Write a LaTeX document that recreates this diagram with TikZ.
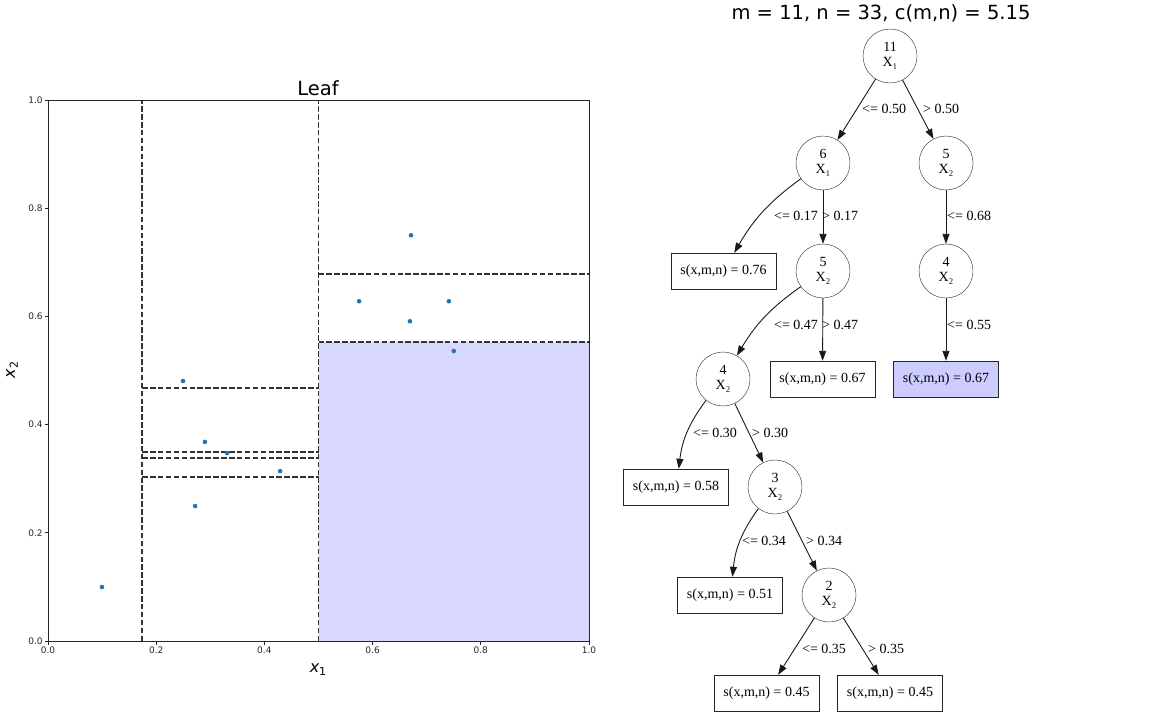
\documentclass[tikz,border=0pt]{standalone}
\usepackage{fontspec}
\setmainfont{Liberation Serif}
\newfontfamily\plotfont{DejaVu Sans}
\usetikzlibrary{arrows.meta}
\definecolor{ptblue}{HTML}{1F77B4}
\definecolor{leafshade}{HTML}{D8D8FF}
\definecolor{leafpick}{HTML}{CCCCFF}

\begin{document}
\begin{tikzpicture}[x=1pt, y=-1pt,
   split/.style={draw=black!85, circle, minimum size=54pt, inner sep=0pt, align=center, font=\fontsize{14}{15}\selectfont},
   leaf/.style={draw=black!85, minimum width=105pt, minimum height=36pt, inner sep=2pt, font=\fontsize{14}{15}\selectfont},
   cut/.style={anchor=west, inner sep=0pt, font=\fontsize{14}{15}\selectfont},
   edge/.style={black!90, line width=0.9pt},
   part/.style={black!80, line width=1.7pt, dash pattern=on 5.5pt off 2.4pt},
   tick/.style={font=\plotfont\fontsize{9}{9}\selectfont, inner sep=1.5pt},
   >={Triangle[length=10pt,width=7pt]}]
\useasboundingbox (0,0) rectangle (1152,720);
%
% left: the partition of the unit square
\begin{scope}[shift={(48,641)}, x=541pt, y=541pt]
   \fill[leafshade] (0.5,0) rectangle (1,0.553);
   \draw[part] (0.174,0) -- (0.174,1);
   \draw[part] (0.5,0) -- (0.5,1);
   \draw[part] (0.5,0.678) -- (1,0.678);
   \draw[part] (0.5,0.553) -- (1,0.553);
   \draw[part] (0.174,0.468) -- (0.5,0.468);
   \draw[part] (0.174,0.349) -- (0.5,0.349);
   \draw[part] (0.174,0.338) -- (0.5,0.338);
   \draw[part] (0.174,0.303) -- (0.5,0.303);
   \foreach \px/\py in {0.671/0.750, 0.575/0.628, 0.741/0.628, 0.669/0.591, 0.750/0.536,
                        0.2495/0.4806, 0.290/0.368, 0.331/0.3475, 0.429/0.314, 0.272/0.2495, 0.0998/0.0998}
      \fill[ptblue] (\px,\py) circle (2.3pt);
   \draw[black!85, line width=1pt] (0,0) rectangle (1,1);
   \foreach \t in {0.0,0.2,0.4,0.6,0.8,1.0} {
      \draw[black!85, line width=0.8pt] (\t,0) -- ++(0pt,-3.5pt) node[tick, below] (xt\t) {\t};
      \draw[black!85, line width=0.8pt] (0,\t) -- ++(-3.5pt,0pt) node[tick, left] (yt\t) {\t};
   }
\end{scope}
%
\node[font=\plotfont\fontsize{19.5}{20}\selectfont] at (318,88) (plottitle) {Leaf};
\node[font=\plotfont\fontsize{16}{16}\selectfont] at (318,670) (xlab) {\itshape x\raisebox{-3pt}{\upshape\fontsize{11}{11}\selectfont 1}};
\node[font=\plotfont\fontsize{16}{16}\selectfont, rotate=90] at (12,370) (ylab) {\itshape x\raisebox{-3pt}{\upshape\fontsize{11}{11}\selectfont 2}};
%
% right: the isolation tree
\node[font=\plotfont\fontsize{19.5}{20}\selectfont] at (881,13) (treetitle) {m = 11, n = 33, c(m,n) = 5.15};
%
             \node [split] at (890,56) (n0) {11\\X₁};
             \node [split] at (823,163) (n1) {6\\X₁};
             \node [split] at (946,163) (n2) {5\\X₂};
             \node [leaf] at (723.5,271) (la) {s(x,m,n) = 0.76};
             \node [split] at (823,271) (n3) {5\\X₂};
             \node [split] at (946,271) (n4) {4\\X₂};
             \node [split] at (723,379) (n5) {4\\X₂};
             \node [leaf] at (822.5,379) (lb) {s(x,m,n) = 0.67};
             \node [leaf, fill=leafpick] at (946,379) (lc) {s(x,m,n) = 0.67};
             \node [leaf] at (676,487) (ld) {s(x,m,n) = 0.58};
             \node [split] at (775,487) (n6) {3\\X₂};
             \node [leaf] at (730,595) (le) {s(x,m,n) = 0.51};
             \node [split] at (829,595) (n7) {2\\X₂};
             \node [leaf] at (766.5,693) (lf) {s(x,m,n) = 0.45};
             \node [leaf] at (890,693) (lg) {s(x,m,n) = 0.45};
%
             \node [cut] at (862,109) (c0a) {<= 0.50};
             \node [cut] at (923,109) (c0b) {> 0.50};
             \node [cut] at (774,216) (c1a) {<= 0.17};
             \node [cut] at (822,216) (c1b) {> 0.17};
             \node [cut] at (947,216) (c2a) {<= 0.68};
             \node [cut] at (774,325) (c3a) {<= 0.47};
             \node [cut] at (822,325) (c3b) {> 0.47};
             \node [cut] at (947,325) (c4a) {<= 0.55};
             \node [cut] at (693,433) (c5a) {<= 0.30};
             \node [cut] at (752,433) (c5b) {> 0.30};
             \node [cut] at (742,541) (c6a) {<= 0.34};
             \node [cut] at (806,541) (c6b) {> 0.34};
             \node [cut] at (802,649) (c7a) {<= 0.35};
             \node [cut] at (868,649) (c7b) {> 0.35};
%
\draw[<-, edge] (n1) -- (n0);
\draw[<-, edge] (n2) -- (n0);
\draw[<-, edge] (la) to[bend left=12] (n1);
\draw[<-, edge] (n3) -- (n1);
\draw[<-, edge] (n4) -- (n2);
\draw[<-, edge] (n5) to[bend left=12] (n3);
\draw[<-, edge] (lb) -- (n3);
\draw[<-, edge] (lc) -- (n4);
\draw[<-, edge] (ld) to[bend left=15] (n5);
\draw[<-, edge] (n6) -- (n5);
\draw[<-, edge] (le) to[bend left=15] (n6);
\draw[<-, edge] (n7) -- (n6);
\draw[<-, edge] (lf) -- (n7);
\draw[<-, edge] (lg) -- (n7);
\end{tikzpicture}
\end{document}
